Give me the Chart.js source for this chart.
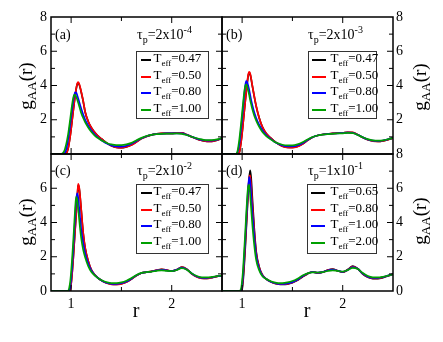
<!DOCTYPE html>
<html>
<head>
<meta charset="utf-8">
<style>
  body { margin: 0; background: #fff; }
  #wrap { position: relative; width: 443px; height: 342px; font-family: 'Liberation Serif', 'DejaVu Serif', serif; color: #000; }
  canvas { position: absolute; left: 0; top: 0; }
  .txt { position: absolute; white-space: nowrap; font-size: 14px; line-height: 14px; }
  .txt sub, .txt sup { font-size: 10px; line-height: 0; }
  .ytitle { position: absolute; white-space: nowrap; font-size: 19px; line-height: 19px; transform: translate(-50%, -50%) rotate(-90deg); }
  .ytitle sub { font-size: 13px; line-height: 0; }
  .xtitle { position: absolute; font-size: 20px; line-height: 20px; transform: translateX(-50%); }
  .legend { position: absolute; box-sizing: border-box; border: 1.5px solid #333; }
  .legend .row { position: absolute; left: 0; right: 0; height: 0; }
  .legend .sample { position: absolute; top: -1px; height: 2px; }
  .legend .lab { position: absolute; top: -9px; font-size: 13px; line-height: 13px; white-space: nowrap; }
  .legend .lab sub { font-size: 9px; line-height: 0; }
</style>
<script src="https://cdn.jsdelivr.net/npm/chart.js@4.4.1/dist/chart.umd.min.js"></script>
</head>
<body>
<div id="wrap">
  <canvas id="pa" width="443" height="342"></canvas>
  <canvas id="pb" width="443" height="342"></canvas>
  <canvas id="pc" width="443" height="342"></canvas>
  <canvas id="pd" width="443" height="342"></canvas>
</div>
<script>
// r grid (same for every curve)
const R = [0.80, 0.90, 0.93, 0.95, 0.97, 0.99, 1.00, 1.01,
           1.02, 1.03, 1.04, 1.05, 1.06, 1.07, 1.08, 1.09,
           1.10, 1.12, 1.14, 1.17, 1.20, 1.24, 1.28, 1.32,
           1.36, 1.40, 1.45, 1.50, 1.55, 1.60, 1.65, 1.70,
           1.75, 1.80, 1.85, 1.90, 1.95, 2.00, 2.05, 2.10,
           2.15, 2.20, 2.25, 2.30, 2.35, 2.40, 2.45, 2.50];

// (a) tau_p = 2x10^-4
const gA_047 = [0, 0, 0, 0.03, 0.32, 1.02, 1.47, 1.97,
                2.47, 2.95, 3.4, 3.78, 4.06, 4.15, 4.06, 3.86,
                3.62, 3.08, 2.44, 1.9, 1.55, 1.22, 0.98, 0.8,
                0.62, 0.48, 0.38, 0.37, 0.42, 0.53, 0.71, 0.9,
                1.03, 1.12, 1.17, 1.2, 1.21, 1.21, 1.23, 1.23,
                1.12, 1.0, 0.88, 0.79, 0.74, 0.74, 0.8, 0.92];
const gA_050 = [0, 0, 0, 0.02, 0.3, 1.0, 1.45, 1.95,
                2.45, 2.95, 3.4, 3.8, 4.1, 4.2, 4.1, 3.9,
                3.65, 3.1, 2.45, 1.9, 1.55, 1.22, 0.98, 0.8,
                0.62, 0.48, 0.38, 0.36, 0.42, 0.52, 0.7, 0.9,
                1.03, 1.12, 1.17, 1.2, 1.21, 1.21, 1.23, 1.24,
                1.13, 1.0, 0.88, 0.79, 0.74, 0.73, 0.8, 0.92];
const gA_080 = [0, 0, 0.02, 0.25, 0.85, 1.7, 2.15, 2.6,
                3.05, 3.4, 3.6, 3.58, 3.45, 3.25, 3.05, 2.85,
                2.65, 2.3, 2.0, 1.65, 1.38, 1.1, 0.9, 0.73,
                0.6, 0.5, 0.44, 0.43, 0.48, 0.6, 0.76, 0.92,
                1.04, 1.12, 1.16, 1.18, 1.2, 1.2, 1.21, 1.2,
                1.12, 1.01, 0.9, 0.82, 0.78, 0.78, 0.83, 0.93];
const gA_100 = [0, 0, 0.15, 0.55, 1.15, 2.0, 2.45, 2.9,
                3.25, 3.45, 3.45, 3.35, 3.2, 3.0, 2.8, 2.6,
                2.4, 2.1, 1.85, 1.55, 1.3, 1.05, 0.88, 0.74,
                0.63, 0.56, 0.52, 0.52, 0.56, 0.65, 0.8, 0.94,
                1.05, 1.12, 1.16, 1.18, 1.19, 1.19, 1.2, 1.18,
                1.11, 1.01, 0.92, 0.85, 0.81, 0.81, 0.85, 0.94];

// (b) tau_p = 2x10^-3
const gB_047 = [0, 0, 0, 0, 0.06, 0.72, 1.22, 1.82,
                2.42, 3.0, 3.58, 4.1, 4.55, 4.75, 4.65, 4.37,
                4.02, 3.38, 2.78, 2.1, 1.6, 1.2, 0.95, 0.75,
                0.58, 0.46, 0.39, 0.38, 0.44, 0.58, 0.8, 0.98,
                1.08, 1.14, 1.18, 1.2, 1.22, 1.23, 1.26, 1.25,
                1.12, 0.96, 0.83, 0.76, 0.74, 0.77, 0.84, 0.93];
const gB_050 = [0, 0, 0, 0, 0.05, 0.7, 1.2, 1.8,
                2.4, 3.0, 3.6, 4.15, 4.6, 4.8, 4.7, 4.4,
                4.05, 3.4, 2.8, 2.1, 1.6, 1.2, 0.95, 0.75,
                0.58, 0.46, 0.38, 0.37, 0.43, 0.58, 0.8, 0.98,
                1.08, 1.14, 1.18, 1.2, 1.22, 1.23, 1.27, 1.26,
                1.13, 0.96, 0.83, 0.75, 0.73, 0.76, 0.84, 0.93];
const gB_080 = [0, 0, 0, 0.05, 0.5, 1.5, 2.1, 2.75,
                3.4, 3.95, 4.25, 4.2, 4.0, 3.75, 3.45, 3.15,
                2.9, 2.45, 2.1, 1.7, 1.4, 1.1, 0.9, 0.72,
                0.6, 0.5, 0.44, 0.44, 0.5, 0.63, 0.82, 0.98,
                1.08, 1.14, 1.17, 1.19, 1.21, 1.22, 1.25, 1.24,
                1.12, 0.97, 0.85, 0.78, 0.76, 0.79, 0.86, 0.94];
const gB_100 = [0, 0, 0, 0.08, 0.75, 1.8, 2.4, 3.0,
                3.55, 3.95, 4.05, 3.95, 3.7, 3.45, 3.15, 2.9,
                2.65, 2.25, 1.95, 1.58, 1.3, 1.05, 0.87, 0.72,
                0.62, 0.54, 0.5, 0.5, 0.56, 0.68, 0.85, 0.99,
                1.08, 1.13, 1.16, 1.18, 1.2, 1.21, 1.23, 1.22,
                1.11, 0.98, 0.87, 0.8, 0.78, 0.8, 0.86, 0.94];

// (c) tau_p = 2x10^-2
const gC_047 = [0, 0, 0, 0, 0, 0.06, 0.42, 1.02,
                1.82, 2.7, 3.6, 4.48, 5.35, 6.18, 6.0, 5.45,
                4.75, 3.38, 2.5, 1.75, 1.25, 0.92, 0.7, 0.55,
                0.45, 0.4, 0.39, 0.43, 0.53, 0.7, 0.9, 1.05,
                1.1, 1.15, 1.21, 1.26, 1.22, 1.16, 1.24, 1.39,
                1.27, 1.0, 0.83, 0.75, 0.74, 0.78, 0.85, 0.9];
const gC_050 = [0, 0, 0, 0, 0, 0.05, 0.4, 1.0,
                1.8, 2.7, 3.6, 4.5, 5.4, 6.25, 6.05, 5.5,
                4.8, 3.4, 2.5, 1.75, 1.25, 0.92, 0.7, 0.55,
                0.45, 0.39, 0.38, 0.42, 0.52, 0.7, 0.9, 1.05,
                1.1, 1.15, 1.22, 1.27, 1.22, 1.16, 1.25, 1.4,
                1.28, 1.0, 0.82, 0.74, 0.73, 0.78, 0.85, 0.9];
const gC_080 = [0, 0, 0, 0, 0, 0.2, 0.7, 1.4,
                2.3, 3.3, 4.3, 5.3, 5.7, 5.45, 4.85, 4.2,
                3.6, 2.8, 2.2, 1.6, 1.2, 0.9, 0.7, 0.56,
                0.47, 0.42, 0.41, 0.45, 0.55, 0.72, 0.92, 1.05,
                1.1, 1.14, 1.2, 1.24, 1.2, 1.16, 1.24, 1.36,
                1.26, 1.02, 0.85, 0.77, 0.76, 0.8, 0.86, 0.9];
const gC_100 = [0, 0, 0, 0, 0.02, 0.5, 1.1, 1.9,
                2.8, 3.8, 4.8, 5.5, 5.35, 4.8, 4.2, 3.6,
                3.1, 2.4, 1.95, 1.45, 1.12, 0.88, 0.7, 0.58,
                0.5, 0.46, 0.46, 0.5, 0.6, 0.76, 0.94, 1.06,
                1.1, 1.13, 1.18, 1.21, 1.18, 1.16, 1.22, 1.33,
                1.24, 1.03, 0.88, 0.8, 0.79, 0.82, 0.87, 0.9];

// (d) tau_p = 1x10^-1
const gD_065 = [0, 0, 0, 0, 0, 0, 0.1, 0.6,
                1.4, 2.4, 3.5, 4.6, 5.7, 6.6, 7.05, 6.6,
                5.6, 3.7, 2.3, 1.4, 0.95, 0.7, 0.55, 0.45,
                0.4, 0.38, 0.4, 0.48, 0.62, 0.82, 1.0, 1.12,
                1.05, 1.1, 1.22, 1.28, 1.18, 1.1, 1.25, 1.46,
                1.3, 0.98, 0.8, 0.72, 0.72, 0.78, 0.88, 0.98];
const gD_080 = [0, 0, 0, 0, 0, 0, 0.2, 0.8,
                1.6, 2.6, 3.7, 4.8, 5.8, 6.6, 6.75, 6.1,
                5.2, 3.5, 2.2, 1.38, 0.95, 0.7, 0.56, 0.46,
                0.41, 0.4, 0.42, 0.5, 0.64, 0.84, 1.01, 1.11,
                1.06, 1.1, 1.21, 1.27, 1.18, 1.11, 1.24, 1.43,
                1.3, 1.0, 0.82, 0.74, 0.74, 0.8, 0.89, 0.98];
const gD_100 = [0, 0, 0, 0, 0, 0.02, 0.35, 1.0,
                1.9, 2.9, 4.0, 5.1, 6.0, 6.65, 6.4, 5.6,
                4.7, 3.2, 2.05, 1.3, 0.92, 0.7, 0.56, 0.47,
                0.42, 0.41, 0.44, 0.52, 0.66, 0.86, 1.02, 1.1,
                1.07, 1.1, 1.2, 1.25, 1.18, 1.12, 1.23, 1.4,
                1.3, 1.02, 0.84, 0.76, 0.76, 0.81, 0.9, 0.98];
const gD_200 = [0, 0, 0, 0, 0, 0.15, 0.6, 1.3,
                2.3, 3.3, 4.4, 5.4, 6.1, 6.2, 5.6, 4.8,
                4.0, 2.7, 1.8, 1.2, 0.88, 0.7, 0.58, 0.5,
                0.46, 0.46, 0.5, 0.58, 0.72, 0.9, 1.03, 1.09,
                1.08, 1.1, 1.17, 1.21, 1.17, 1.13, 1.22, 1.35,
                1.28, 1.05, 0.88, 0.8, 0.79, 0.83, 0.9, 0.97];

const TEMPS_ABC = ['0.47', '0.50', '0.80', '1.00'];
const TEMPS_D = ['0.65', '0.80', '1.00', '2.00'];
const TAU_MANT = ['2', '2', '2', '1'];
const TAU_EXP = ['-4', '-3', '-2', '-1'];
const PANEL_TAGS = ['(a)', '(b)', '(c)', '(d)'];

const X_TICKS = [1, 2];
const X_MINOR = [1.5];
const Y_MAJOR = [2, 4, 6];
const Y_MINOR = [1, 3, 5, 7];

const COLORS = ['#000000', '#ff0000', '#0000ff', '#00a000'];
const W = 443, H = 342;
const AXW = 40, AXH = 30;
const FONT = "'Liberation Serif', 'DejaVu Serif', serif";

Chart.defaults.color = '#000';

// box + inward ticks on all four sides, like the original plot
const frameTicks = {
  id: 'frameTicks',
  afterDraw(chart) {
    const { ctx, chartArea: a, scales: { x, y } } = chart;
    ctx.save();
    ctx.strokeStyle = '#000';
    ctx.lineWidth = 1;
    ctx.beginPath();
    const hTick = (v, len) => {
      const py = y.getPixelForValue(v);
      ctx.moveTo(a.left, py); ctx.lineTo(a.left + len, py);
      ctx.moveTo(a.right, py); ctx.lineTo(a.right - len, py);
    };
    const vTick = (v, len) => {
      const px = x.getPixelForValue(v);
      ctx.moveTo(px, a.bottom); ctx.lineTo(px, a.bottom - len);
      ctx.moveTo(px, a.top); ctx.lineTo(px, a.top + len);
    };
    Y_MAJOR.forEach(v => hTick(v, 6));
    Y_MINOR.forEach(v => hTick(v, 4));
    X_TICKS.forEach(v => vTick(v, 6));
    X_MINOR.forEach(v => vTick(v, 4));
    ctx.stroke();
    ctx.lineWidth = 1.5;
    ctx.strokeRect(a.left, a.top, a.right - a.left, a.bottom - a.top);
    ctx.restore();
  }
};

const panels = [
  { canvas: 'pa', series: [gA_047, gA_050, gA_080, gA_100], temps: TEMPS_ABC, side: 'left',
    left: 51, right: 222, top: 17, bottom: 154, yTicks: [2, 4, 6, 8], xLabels: false,
    legend: { x: 136, y: 51, w: 73, h: 68, s0: 4, s1: 14, t: 18 } },
  { canvas: 'pb', series: [gB_047, gB_050, gB_080, gB_100], temps: TEMPS_ABC, side: 'right',
    left: 222, right: 393, top: 17, bottom: 154, yTicks: [2, 4, 6, 8], xLabels: false,
    legend: { x: 308, y: 51, w: 69, h: 68, s0: 3, s1: 17, t: 23 } },
  { canvas: 'pc', series: [gC_047, gC_050, gC_080, gC_100], temps: TEMPS_ABC, side: 'left',
    left: 51, right: 222, top: 154, bottom: 291, yTicks: [0, 2, 4, 6], xLabels: true,
    legend: { x: 136, y: 184, w: 73, h: 70, s0: 4, s1: 15, t: 18 } },
  { canvas: 'pd', series: [gD_065, gD_080, gD_100, gD_200], temps: TEMPS_D, side: 'right',
    left: 222, right: 393, top: 154, bottom: 291, yTicks: [0, 2, 4, 6, 8], xLabels: true,
    legend: { x: 307, y: 184, w: 70, h: 70, s0: 3, s1: 17, t: 24 } }
];

function makeChart(p) {
  const datasets = p.series.map((s, i) => ({
    label: 'T_eff=' + p.temps[i],
    data: R.map((r, k) => ({ x: r, y: s[k] })),
    borderColor: COLORS[i],
    borderWidth: 1.7,
    pointRadius: 0,
    fill: false,
    cubicInterpolationMode: 'monotone',
    order: 4 - i
  }));
  const left = p.side === 'left';
  return new Chart(document.getElementById(p.canvas), {
    type: 'line',
    data: { datasets },
    options: {
      responsive: false,
      animation: false,
      events: [],
      layout: {
        padding: {
          left: left ? p.left - AXW : p.left,
          right: left ? W - p.right : W - p.right - AXW,
          top: p.top,
          bottom: H - p.bottom - AXH
        }
      },
      plugins: { legend: { display: false }, tooltip: { enabled: false } },
      scales: {
        x: {
          type: 'linear', min: 0.8, max: 2.5,
          grid: { display: false, drawTicks: false }, border: { display: false },
          afterFit: s => { s.height = AXH; },
          afterBuildTicks: s => { s.ticks = X_TICKS.map(v => ({ value: v })); },
          ticks: { display: p.xLabels, padding: 5, autoSkip: false, maxRotation: 0, font: { family: FONT, size: 14 } }
        },
        y: {
          type: 'linear', min: 0, max: 8, position: p.side,
          grid: { display: false, drawTicks: false }, border: { display: false },
          afterFit: s => { s.width = AXW; },
          afterBuildTicks: s => { s.ticks = p.yTicks.map(v => ({ value: v })); },
          ticks: { padding: left ? 4 : 3, autoSkip: false, font: { family: FONT, size: 14 } }
        }
      }
    },
    plugins: [frameTicks]
  });
}

const wrap = document.getElementById('wrap');

function addDiv(cls, html, x, y) {
  const d = document.createElement('div');
  d.className = cls;
  d.innerHTML = html;
  d.style.left = x + 'px';
  d.style.top = y + 'px';
  wrap.appendChild(d);
  return d;
}

function addLegend(chart, L) {
  const box = addDiv('legend', '', L.x, L.y);
  box.style.width = L.w + 'px';
  box.style.height = L.h + 'px';
  chart.data.datasets.forEach((ds, i) => {
    const row = document.createElement('div');
    row.className = 'row';
    row.style.top = (8 + i * 16.5) + 'px';
    const val = ds.label.split('=')[1];
    row.innerHTML = `<div class="sample" style="left:${L.s0}px;width:${L.s1 - L.s0}px;background:${ds.borderColor}"></div>` +
      `<div class="lab" style="left:${L.t - 1.5}px">T<sub>eff</sub>=${val}</div>`;
    box.appendChild(row);
  });
}

panels.forEach((p, i) => {
  const chart = makeChart(p);
  addLegend(chart, p.legend);
  const tx = p.side === 'left' ? 55 : 226;
  const taux = p.side === 'left' ? 137 : 308;
  const ty = p.top === 17 ? 28 : 164;
  addDiv('txt', PANEL_TAGS[i], tx, ty);
  addDiv('txt', `&tau;<sub>p</sub>=${TAU_MANT[i]}x10<sup>${TAU_EXP[i]}</sup>`, taux, ty);
});

// axis titles
addDiv('ytitle', 'g<sub>AA</sub>(r)', 25, 86);
addDiv('ytitle', 'g<sub>AA</sub>(r)', 25, 222);
addDiv('ytitle', 'g<sub>AA</sub>(r)', 419, 87);
addDiv('ytitle', 'g<sub>AA</sub>(r)', 419, 221);
addDiv('xtitle', 'r', 136, 300);
addDiv('xtitle', 'r', 307, 300);
</script>
</body>
</html>
